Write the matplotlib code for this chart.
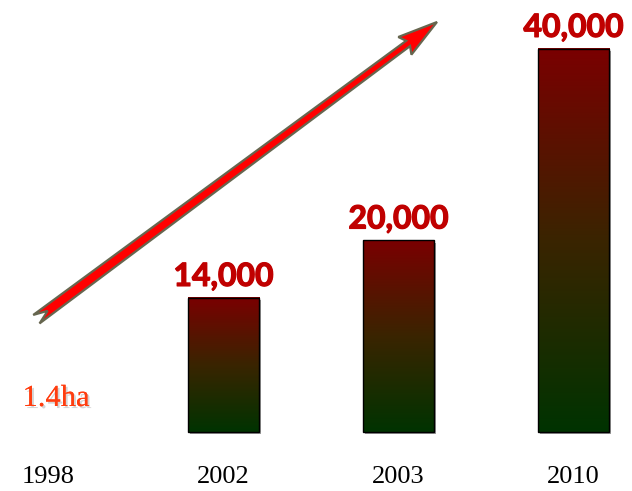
import numpy as np
import matplotlib
matplotlib.use("Agg")
import matplotlib.pyplot as plt
from matplotlib.colors import LinearSegmentedColormap
from matplotlib.patches import Rectangle, Polygon
from matplotlib.transforms import IdentityTransform
import matplotlib.patheffects as pe

years = ["1998", "2002", "2003", "2010"]
values = [0, 14000, 20000, 40000]
value_labels = ["", "14,000", "20,000", "40,000"]
note_1998 = "1.4ha"

W, H = 632, 491
DPI = 100
BAR_W = 0.406

bar_cmap = LinearSegmentedColormap.from_list("redgreen", ["#003300", "#3a2400", "#7a0000"])


def arrow_polygon(tail, tip):
    # tail/tip given as image pixels (y down); return display coords
    tail = np.array([tail[0], H - tail[1]], float)
    tip = np.array([tip[0], H - tip[1]], float)
    d = tip - tail
    L = np.hypot(*d)
    u = d / L
    n = np.array([-u[1], u[0]])
    sw, hw, hl, nd = 3.3, 11.0, 40.0, 12.0
    st = [(L, 0), (L - hl, hw), (L - hl + 4, sw), (-2, sw + 2), (nd, 0),
          (-2, -sw - 2), (L - hl + 4, -sw), (L - hl, -hw)]
    return np.array([tail + s * u + t * n for s, t in st])


fig = plt.figure(figsize=(W / DPI, H / DPI), dpi=DPI)
ax = fig.add_axes([0, 0, 1, 1])
ax.set_axis_off()

grad = np.linspace(0, 1, 256).reshape(-1, 1)
for i, (v, lab) in enumerate(zip(values, value_labels)):
    if v <= 0:
        continue
    x0 = i - BAR_W / 2
    # soft shadow
    ax.add_patch(Rectangle((x0 + 0.012, -250), BAR_W, v, facecolor="#9a9a9a",
                           edgecolor="none", zorder=1))
    ax.imshow(grad, extent=(x0, x0 + BAR_W, 0, v), origin="lower", aspect="auto",
              cmap=bar_cmap, zorder=2, interpolation="bilinear")
    ax.add_patch(Rectangle((x0, 0), BAR_W, v, facecolor="none",
                           edgecolor="black", linewidth=1.0, zorder=3))
    ax.text(i, v + 1250, lab, ha="center", va="baseline", fontsize=23,
            fontweight="bold", color="#c00000", family="Lato", zorder=4,
            path_effects=[pe.withStroke(linewidth=0.9, foreground="#c00000")])

for i, yr in enumerate(years):
    ax.text(i, -4700, yr, ha="center", va="center", fontsize=19,
            family="Liberation Serif", color="black")

ax.text(0.043, 3500, note_1998, ha="center", va="center", fontsize=22,
        family="Liberation Serif", color="#ff3d0f",
        path_effects=[pe.withSimplePatchShadow(offset=(1.5, -1.5),
                                               shadow_rgbFace="#888888", alpha=0.35),
                      pe.Normal()])

ax.set_xlim(-0.277, 3.334)
ax.set_ylim(-6160, 45100)

arrow = Polygon(arrow_polygon((38, 318), (437, 22)), closed=True,
                facecolor="#ff0000", edgecolor="#66664f", linewidth=1.6,
                transform=IdentityTransform(), zorder=5)
fig.patches.append(arrow)
arrow.set_figure(fig)

fig.savefig("out.png", dpi=DPI)
